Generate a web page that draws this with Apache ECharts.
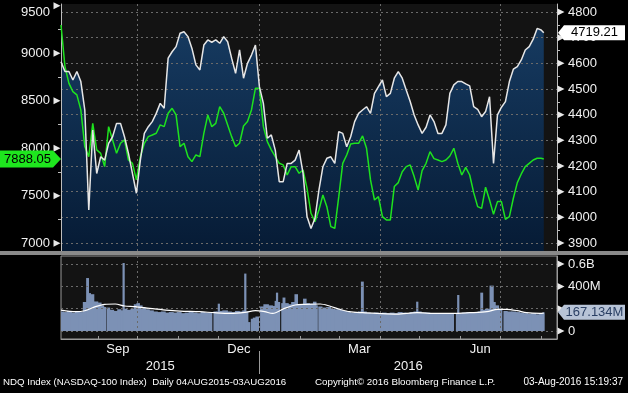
<!DOCTYPE html>
<html><head><meta charset="utf-8">
<script src="https://cdn.jsdelivr.net/npm/echarts@6/dist/echarts.min.js"></script>
<style>html,body{margin:0;padding:0;background:#000;}#c{width:628px;height:393px;}</style>
</head><body><div id="c"></div>
<script>
// ---- DATA (x = calendar days since 04-Aug-2015) ----
const sampleDays = [0,3,6,9,12,15,18,21,24,27,30,33,36,39,42,45,48,51,54,57,60,63,66,69,72,75,78,81,84,87,90,93,96,99,102,105,108,111,114,117,120,123,126,129,132,135,138,141,144,147,150,153,156,159,162,165,168,171,174,177,180,183,186,189,192,195,198,201,204,207,210,213,216,219,222,225,228,231,234,237,240,243,246,249,252,255,258,261,264,267,270,273,276,279,282,285,288,291,294,297,300,303,306,309,312,315,318,321,324,327,330,333,336,339,342,345,348,351,354,357,360,363,365];
// NASDAQ-100 (white, right axis)
const ndxValues = [4606,4568,4568,4535,4568,4529,4418,4029,4340,4171,
  4236,4223,4288,4314,4366,4366,4314,4249,4171,4094,
  4223,4327,4353,4373,4405,4444,4425,4620,4645,4665,
  4717,4723,4704,4658,4594,4574,4671,4691,4682,4691,
  4678,4704,4684,4620,4561,4652,4542,4600,4632,4671,
  4509,4444,4308,4321,4262,4139,4139,4210,4210,4223,
  4262,4171,4003,3957,3996,4106,4197,4230,4236,4210,
  4334,4327,4275,4314,4373,4405,4418,4431,4405,4483,
  4509,4535,4470,4483,4542,4568,4542,4496,4451,4399,
  4360,4327,4351,4399,4373,4327,4327,4360,4483,4516,
  4529,4529,4520,4512,4431,4421,4392,4412,4470,4210,
  4399,4429,4451,4529,4577,4587,4613,4652,4665,4694,
  4736,4730,4719.21];
// comparison index (green, left axis)
const otherValues = [9298,8860,8684,8597,8562,8404,8018,7912,8263,7983,
  7947,7807,8228,8088,7947,8053,8088,7877,7842,7667,
  7912,8053,8123,8140,8158,8246,8228,8369,8421,8351,
  8018,8053,7912,7860,7930,7912,8158,8351,8228,8263,
  8439,8369,8246,8123,8018,8053,8235,8281,8404,8632,
  8632,8228,8070,7983,7912,7842,7825,7719,7807,7807,
  7737,7772,7579,7316,7228,7351,7509,7386,7175,7158,
  7491,7842,7930,8046,8053,8053,8130,8000,7667,7456,
  7491,7281,7246,7246,7597,7639,7754,7807,7825,7702,
  7561,7765,7842,7965,7891,7877,7860,7877,7919,8000,
  7842,7719,7800,7719,7533,7386,7368,7590,7456,7305,
  7439,7439,7253,7281,7474,7639,7730,7807,7842,7877,
  7895,7895,7888.05];
// volume (millions)
const volDays = [0,3,6,9,12,15,18,20,21,23,26,29,31,33,34,35,38,41,44,46,47,48,51,54,56,58,60,62,65,68,71,74,77,80,83,86,89,92,95,98,101,104,107,110,113,114.5,116,118,119,120,124,127,130,133,136,138,139,140,142,143,144,146,148,150,151,155,158,161,162,163,164,166,167,168,170,173,175,178,179,182,184,186,189,192,193,194,195,199,202,205,208,211,214,217,220,223,226,227.5,229,232,235,238,241,244,247,250,253,256,259,262,265,268,269,270,274,277,280,283,286,289,292,295,298,299,300,301,305,308,311,314,316,318,319,322,326,327,329,332,334,335,339,342,345,348,351,354,357,360,363,365];
const volValues = [175,170,180,165,175,170,260,475,340,330,265,255,230,215,0,210,190,180,195,185,610,200,190,200,240,250,230,210,195,185,175,170,175,165,170,165,170,160,165,170,165,160,170,165,165,0,175,175,245,180,185,175,170,180,175,185,515,175,80,0,110,120,130,0,220,240,230,225,270,344,260,0,250,300,250,240,260,330,240,240,290,250,245,263,230,0,220,210,215,200,195,190,180,170,165,170,175,443,175,165,160,165,160,165,160,165,160,170,165,160,170,175,263,175,165,165,160,160,155,160,160,155,0,160,323,160,165,170,165,170,175,344,190,200,407,260,230,200,0,180,175,175,170,165,160,155,160,150,155,167.134];
const maDays = [0,11,18,26,33,41,48,56,67,79,90,105,116,128,139,147,154,160,169,177,184,196,203,211,218,228,239,254,269,284,296,309,322,330,337,345,352,362,365];
const maValues = [188,173,182,218,239,242,224,218,203,188,179,173,164,158,167,182,173,158,203,233,239,242,224,194,173,164,158,152,164,158,158,164,173,194,194,182,164,158,160];

// ---- AXIS TICKS / LABELS ----
const leftTicks = [7000,7500,8000,8500,9000,9500];
const leftMinorTicks = [7250,7750,8250,8750,9250];
const rightTicks = [3900,4000,4100,4200,4300,4400,4500,4600,4700,4800];
const rightMinorTicks = [3950,4050,4150,4250,4350,4450,4550,4650,4750];
const volTicks = [0,200,400,600];
const volLabelValues = [0,400,600];
const volLabels = ['0','400M','0.6B'];
const monthStartDays = [28,58,89,119,150,181,210,241,271,302,332,363];
const quarterDays = [58,150,241,332];
const monthLabelDays = [43,134.5,225.5,317];
const monthLabels = ['Sep','Dec','Mar','Jun'];
const yearLabelDays = [75,262.5];
const yearLabels = ['2015','2016'];
const yearBoundaryDay = [150];

const X_MAX = 375;
const LEFT_RANGE = [6919, 9519];
const RIGHT_RANGE = [3869, 4831];
const VOL_RANGE = [-71.7, 672.6];

const FONT = '"Liberation Sans", Arial, sans-serif';
const GRID_LINE = {show:true, lineStyle:{color:'#6a6a6a', width:1, type:[2,3]}};
const AXIS_COL = '#bdbdbd';
const TRI = 'path://M0,0L7,3.5L0,7Z';

const ndxData = sampleDays.map((d,i)=>[d, ndxValues[i]]);
const otherData = sampleDays.map((d,i)=>[d, otherValues[i]]);
// each volume bar spans half-way to its neighbours
const volBars = volDays.map((d,i)=>{
  const s = i===0 ? d : (volDays[i-1]+d)/2;
  const e = i===volDays.length-1 ? d : (d+volDays[i+1])/2;
  return [s, e, volValues[i]];
});
const maData = maDays.map((d,i)=>[d, maValues[i]]);
const lastNdx = ndxValues[ndxValues.length-1];
const lastOther = otherValues[otherValues.length-1];
const lastVol = volValues[volValues.length-1];

function triMarks(x, ticks, off){
  return ticks.map(v=>({coord:[x, v], symbol:TRI, symbolSize:[7,7], symbolOffset:[off,0], itemStyle:{color:'#e8e8e8'}, label:{show:false}}));
}

const chart = echarts.init(document.getElementById('c'));
chart.setOption({
  backgroundColor:'#000',
  animation:false,
  textStyle:{fontFamily:FONT},
  grid:[
    {left:61, right:71, top:4, height:247, show:true, backgroundColor:'#131313', borderWidth:0},
    {left:61, right:71, top:256, height:83, show:true, backgroundColor:'#131313', borderColor:'#9a9a9a', borderWidth:1}
  ],
  xAxis:[
    {gridIndex:0, type:'value', min:0, max:X_MAX, z:2, axisLine:{show:false}, axisTick:{show:false, customValues:quarterDays}, axisLabel:{show:false}, splitLine:GRID_LINE},
    {gridIndex:1, type:'value', min:0, max:X_MAX, z:2, position:'bottom',
      axisLine:{show:true, onZero:false, lineStyle:{color:'#9a9a9a'}},
      axisTick:{show:true, inside:true, length:3, customValues:monthStartDays, lineStyle:{color:'#9a9a9a'}},
      axisLabel:{show:true, customValues:monthLabelDays, formatter:v=>monthLabels[monthLabelDays.indexOf(v)], color:'#f2f2f2', fontSize:13, margin:4},
      splitLine:{show:false}},
    {gridIndex:1, type:'value', min:0, max:X_MAX, z:2, axisLine:{show:false, onZero:false}, axisTick:{show:false, customValues:quarterDays}, axisLabel:{show:false}, splitLine:GRID_LINE},
    {gridIndex:1, type:'value', min:0, max:X_MAX, z:2, position:'bottom', offset:12,
      axisLine:{show:false, onZero:false},
      axisTick:{show:true, length:23, customValues:yearBoundaryDay, lineStyle:{color:'#9a9a9a'}},
      axisLabel:{show:true, customValues:yearLabelDays, formatter:v=>yearLabels[yearLabelDays.indexOf(v)], color:'#f2f2f2', fontSize:13, margin:9},
      splitLine:{show:false}}
  ],
  yAxis:[
    {gridIndex:0, type:'value', position:'left', min:LEFT_RANGE[0], max:LEFT_RANGE[1], z:2,
      axisLine:{show:true, onZero:false, lineStyle:{color:AXIS_COL}},
      axisTick:{show:false, customValues:leftTicks},
      axisLabel:{customValues:leftTicks, color:'#f0f0f0', fontSize:13, margin:11,
        formatter:v=> v===leftTicks[leftTicks.length-1] ? '{t|'+v+'}' : String(v),
        rich:{t:{color:'#f0f0f0', fontSize:13, padding:[14,0,0,0]}}},
      splitLine:{show:false}},
    {gridIndex:0, type:'value', position:'right', min:RIGHT_RANGE[0], max:RIGHT_RANGE[1], z:2,
      axisLine:{show:true, onZero:false, lineStyle:{color:AXIS_COL}},
      axisTick:{show:false, customValues:rightTicks},
      axisLabel:{customValues:rightTicks, formatter:v=>String(v), color:'#f0f0f0', fontSize:13, margin:11},
      splitLine:GRID_LINE},
    {gridIndex:1, type:'value', position:'right', min:VOL_RANGE[0], max:VOL_RANGE[1], z:2,
      axisLine:{show:true, onZero:false, lineStyle:{color:'#9a9a9a'}},
      axisTick:{show:false, customValues:volTicks},
      axisLabel:{customValues:volLabelValues, formatter:v=>volLabels[volLabelValues.indexOf(v)], color:'#f0f0f0', fontSize:13, margin:11},
      splitLine:GRID_LINE},
    {gridIndex:0, type:'value', position:'left', min:LEFT_RANGE[0], max:LEFT_RANGE[1], z:2,
      axisLine:{show:false, onZero:false}, axisTick:{show:true, length:3, customValues:leftMinorTicks, lineStyle:{color:AXIS_COL}},
      axisLabel:{show:false}, splitLine:{show:false}},
    {gridIndex:0, type:'value', position:'right', min:RIGHT_RANGE[0], max:RIGHT_RANGE[1], z:2,
      axisLine:{show:false, onZero:false}, axisTick:{show:true, length:3, customValues:rightMinorTicks, lineStyle:{color:AXIS_COL}},
      axisLabel:{show:false}, splitLine:{show:false}}
  ],
  series:[
    {name:'NDX area', type:'line', smooth:false, xAxisIndex:0, yAxisIndex:1, data:ndxData, symbol:'none', z:1,
      lineStyle:{width:0},
      areaStyle:{origin:'start', opacity:1, color:{type:'linear', x:0, y:0, x2:0, y2:1, colorStops:[{offset:0, color:'#163a60'},{offset:1, color:'#061b35'}]}}},
    {name:'Volume', type:'custom', xAxisIndex:1, yAxisIndex:2, data:volBars, encode:{x:[0,1], y:2}, z:1, clip:true,
      renderItem:(params, api)=>{
        const a = api.coord([api.value(0), api.value(2)]);
        const b = api.coord([api.value(1), 0]);
        return {type:'rect', shape:{x:a[0], y:a[1], width:Math.max(b[0]-a[0]+0.9, 0), height:b[1]-a[1]}, style:{fill:'#7c91b5'}};
      }},
    {name:'Volume MA', type:'line', smooth:0.3, xAxisIndex:1, yAxisIndex:2, data:maData, symbol:'none', z:5,
      lineStyle:{color:'#ffffff', width:1.2},
      markPoint:{z:6, data:[
        ...triMarks(X_MAX, volTicks, 4),
        {coord:[X_MAX, lastVol], symbol:'path://M6,0L67,0L67,15L6,15L0,7.5Z', symbolSize:[67,15], symbolOffset:[34.5,0],
          itemStyle:{color:'#b7c3d6'}, label:{show:true, position:'inside', formatter:lastVol.toFixed(3)+'M', color:'#2a3f63', fontSize:13, offset:[3,0]}}
      ]}},
    {name:'Other', type:'line', smooth:false, xAxisIndex:0, yAxisIndex:0, data:otherData, symbol:'none', z:5,
      lineStyle:{color:'#1ee21e', width:1.5},
      markPoint:{z:6, data:[
        ...triMarks(0, leftTicks, -4),
        {coord:[0, lastOther], symbol:'path://M0,0L53,0L61,8.5L53,17L0,17Z', symbolSize:[61,17], symbolOffset:[-30.5,0],
          itemStyle:{color:'#1ee61e'}, label:{show:true, position:'inside', formatter:lastOther.toFixed(2), color:'#000', fontSize:13, offset:[-3,0]}}
      ]}},
    {name:'NDX', type:'line', smooth:false, xAxisIndex:0, yAxisIndex:1, data:ndxData, symbol:'none', z:6,
      lineStyle:{color:'#e6e6e6', width:1.5},
      markPoint:{z:7, data:[
        ...triMarks(X_MAX, rightTicks, 4),
        {coord:[X_MAX, lastNdx], symbol:'path://M6,0L67,0L67,15L6,15L0,7.5Z', symbolSize:[67,15], symbolOffset:[34.5,0],
          itemStyle:{color:'#ffffff'}, label:{show:true, position:'inside', formatter:lastNdx.toFixed(2), color:'#000', fontSize:13, offset:[3,0]}}
      ]}}
  ],
  graphic:[
    {type:'rect', left:0, top:251, shape:{width:628, height:4}, style:{fill:'#8a8a8a'}, z:10},
    {type:'text', left:3, top:377, style:{text:'NDQ Index (NASDAQ-100 Index)  Daily 04AUG2015-03AUG2016', fill:'#ffffff', font:'9.7px '+FONT}},
    {type:'text', left:315, top:377, style:{text:'Copyright\u00a9 2016 Bloomberg Finance L.P.', fill:'#ffffff', font:'9.8px '+FONT}},
    {type:'text', right:5, top:377, style:{text:'03-Aug-2016 15:19:37', fill:'#ffffff', font:'10px '+FONT}}
  ]
});
</script>
</body></html>
